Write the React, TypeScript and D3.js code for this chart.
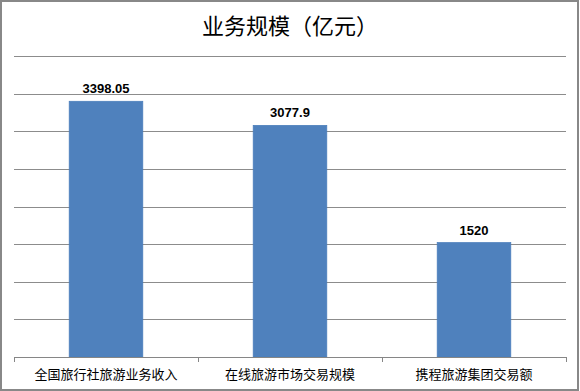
import React from "react";
import * as d3 from "d3";

const title = "业务规模（亿元）";
const categories = ["全国旅行社旅游业务收入", "在线旅游市场交易规模", "携程旅游集团交易额"];
const values = [3398.05, 3077.9, 1520];
const valueLabels = ["3398.05", "3077.9", "1520"];
const yTicks = [0, 500, 1000, 1500, 2000, 2500, 3000, 3500, 4000];

const W = 580;
const H = 391;
const plot = { left: 14, right: 566, top: 56, bottom: 357 };

export default function App() {
  const x = d3
    .scaleBand<string>()
    .domain(categories)
    .range([plot.left, plot.right])
    .paddingInner(0.6)
    .paddingOuter(0.3);
  const xOuter = d3.scaleBand<string>().domain(categories).range([plot.left, plot.right]);
  const y = d3.scaleLinear().domain([0, 4000]).range([plot.bottom, plot.top]);

  const boundaries = [plot.left, ...categories.map((c) => (xOuter(c) as number) + xOuter.bandwidth())];

  return (
    <svg
      width={W}
      height={H}
      style={{ position: "absolute", left: 0, top: 0, background: "#fff" }}
    >
      <rect x={1} y={1} width={W - 3} height={H - 2} fill="#fff" stroke="#888" strokeWidth={2} />
      <text
        x={W / 2}
        y={34}
        textAnchor="middle"
        fontFamily="'Noto Sans CJK SC', sans-serif"
        fontSize={22}
        fill="#000"
      >
        {title}
      </text>
      {yTicks.slice(1).map((t) => (
        <line
          key={t}
          x1={plot.left}
          x2={plot.right}
          y1={Math.round(y(t)) + 0.5}
          y2={Math.round(y(t)) + 0.5}
          stroke="#8c8c8c"
          strokeWidth={1}
        />
      ))}
      {categories.map((c, i) => (
        <rect
          key={c}
          x={x(c)}
          y={y(values[i])}
          width={x.bandwidth()}
          height={plot.bottom - y(values[i])}
          fill="#4F81BD"
          stroke="#4A7EBB"
          strokeWidth={0.75}
        />
      ))}
      <line
        x1={plot.left}
        x2={plot.right}
        y1={plot.bottom + 0.5}
        y2={plot.bottom + 0.5}
        stroke="#868686"
        strokeWidth={1}
      />
      {boundaries.map((b, i) => (
        <line
          key={i}
          x1={Math.round(b) + 0.5}
          x2={Math.round(b) + 0.5}
          y1={plot.bottom}
          y2={plot.bottom + 5}
          stroke="#868686"
          strokeWidth={1}
        />
      ))}
      {categories.map((c, i) => (
        <text
          key={"v" + c}
          x={(x(c) as number) + x.bandwidth() / 2}
          y={y(values[i]) - 8}
          textAnchor="middle"
          fontFamily="'Liberation Sans', Arial, sans-serif"
          fontWeight="bold"
          fontSize={13}
          fill="#000"
        >
          {valueLabels[i]}
        </text>
      ))}
      {categories.map((c) => (
        <text
          key={"c" + c}
          x={(xOuter(c) as number) + xOuter.bandwidth() / 2}
          y={379}
          textAnchor="middle"
          fontFamily="'Noto Sans CJK SC', sans-serif"
          fontSize={13}
          fill="#000"
        >
          {c}
        </text>
      ))}
    </svg>
  );
}
